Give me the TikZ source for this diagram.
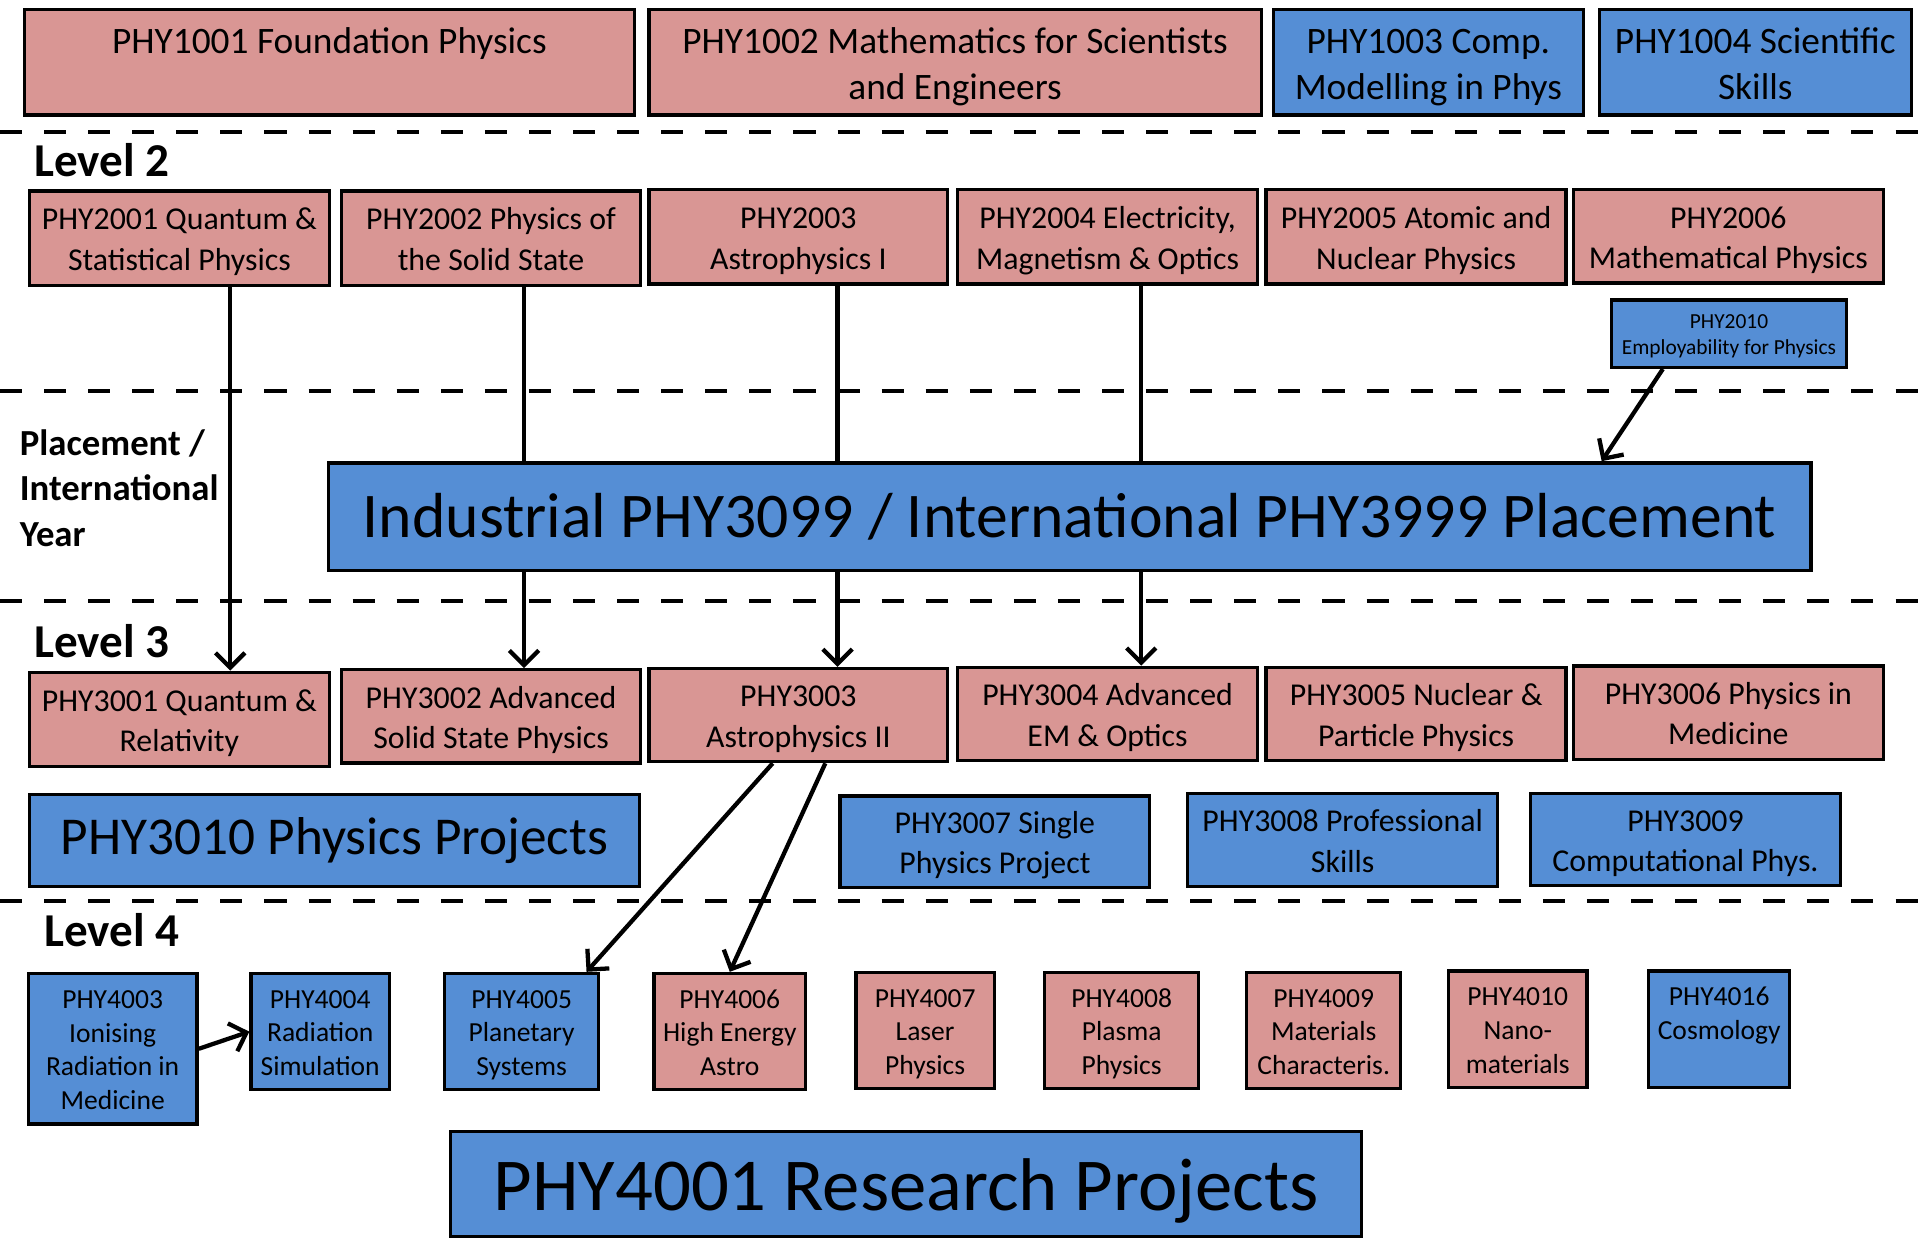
\documentclass[tikz,border=0pt]{standalone}
\usepackage{fontspec}
\setmainfont{Carlito}
\usetikzlibrary{arrows.meta,calc}
\definecolor{pinkc}{HTML}{D99694}
\definecolor{bluec}{HTML}{558ED5}
\newcommand\Htop{\rule{0pt}{1.05em}}
\newcommand\Dbot{\rule[-0.3em]{0pt}{0pt}}
\tikzset{
 box/.style={draw=black, line width=2.7pt, inner sep=0pt, align=center, text=black},
 pk/.style={box, fill=pinkc},
 bl/.style={box, fill=bluec},
 fA/.style={font=\fontsize{30.5}{37}\selectfont},
 fB/.style={font=\fontsize{26}{33}\selectfont},
 fC/.style={font=\fontsize{22.5}{27.5}\selectfont},
 fD/.style={font=\fontsize{17.5}{21.5}\selectfont},
 lvl/.style={font=\bfseries\fontsize{38.5}{42}\selectfont, anchor=base west, inner sep=0pt},
 plc/.style={font=\bfseries\fontsize{30}{37}\selectfont, anchor=base west, inner sep=0pt},
 sep/.style={dash pattern=on 18pt off 18pt, line width=3.3pt},
 ln/.style={line width=3.5pt},
 arr/.style={line width=3.5pt, -{Straight Barb[length=12pt,width=24pt]}},
}
\begin{document}
\begin{tikzpicture}[x=1pt,y=-1pt]
\useasboundingbox (0,0) rectangle (1568,1012);

% separators
\foreach \yy in {108,319,491,736}{
  \draw[sep] (0,\yy) -- (1568,\yy);
}

% Level 1
\node[pk,fA,minimum width=498,minimum height=86] (n1001) at (269,51) {\Htop PHY1001 Foundation Physics\\\mbox{}\Dbot};
\node[pk,fA,minimum width=500,minimum height=86] (n1002) at (780,51) {\Htop PHY1002 Mathematics for Scientists\\and Engineers\Dbot};
\node[bl,fA,minimum width=253,minimum height=86] (n1003) at (1166.5,51) {\Htop PHY1003 Comp.\\Modelling in Phys\Dbot};
\node[bl,fA,minimum width=255,minimum height=86] (n1004) at (1433.5,51) {\Htop PHY1004 Scientific\\Skills\Dbot};

% Level 2
\node[lvl] (lv2) at (28,144) {Level 2};
\node[pk,fB,minimum width=245,minimum height=77] (n2001) at (146.5,194.5) {\Htop PHY2001 Quantum \&\\Statistical Physics\Dbot};
\node[pk,fB,minimum width=244,minimum height=77] (n2002) at (401,194.5) {\Htop PHY2002 Physics of\\the Solid State\Dbot};
\node[pk,fB,minimum width=244,minimum height=77] (n2003) at (652,193.5) {\Htop PHY2003\\Astrophysics I\Dbot};
\node[pk,fB,minimum width=245,minimum height=77] (n2004) at (904.5,193.5) {\Htop PHY2004 Electricity,\\Magnetism \& Optics\Dbot};
\node[pk,fB,minimum width=245,minimum height=77] (n2005) at (1156.5,193.5) {\Htop PHY2005 Atomic and\\Nuclear Physics\Dbot};
\node[pk,fB,minimum width=253,minimum height=76] (n2006) at (1411.5,193) {\Htop PHY2006\\Mathematical Physics\Dbot};
\node[bl,fD,minimum width=192,minimum height=55] (n2010) at (1412,272.5) {\Htop PHY2010\\Employability for Physics\Dbot};

% Placement
\node[plc] (pl1) at (16,372) {Placement /};
\node[plc] (pl2) at (16,409) {International};
\node[plc] (pl3) at (16,446) {Year};
\node[bl,font=\fontsize{52}{60}\selectfont,minimum width=1211,minimum height=88] (place) at (873.5,422) {Industrial PHY3099 / International PHY3999 Placement};

% Level 3
\node[lvl] (lv3) at (28,537) {Level 3};
\node[pk,fB,minimum width=245,minimum height=77] (n3001) at (146.5,587.5) {\Htop PHY3001 Quantum \&\\Relativity\Dbot};
\node[pk,fB,minimum width=244,minimum height=76] (n3002) at (401,585) {\Htop PHY3002 Advanced\\Solid State Physics\Dbot};
\node[pk,fB,minimum width=244,minimum height=76] (n3003) at (652,584) {\Htop PHY3003\\Astrophysics II\Dbot};
\node[pk,fB,minimum width=245,minimum height=76] (n3004) at (904.5,583) {\Htop PHY3004 Advanced\\EM \& Optics\Dbot};
\node[pk,fB,minimum width=245,minimum height=76] (n3005) at (1156.5,583) {\Htop PHY3005 Nuclear \&\\Particle Physics\Dbot};
\node[pk,fB,minimum width=253,minimum height=76] (n3006) at (1411.5,582) {\Htop PHY3006 Physics in\\Medicine\Dbot};

\node[bl,font=\fontsize{43.5}{50}\selectfont,minimum width=498,minimum height=75] (n3010) at (273,686.5) {PHY3010 Physics Projects};
\node[bl,fB,minimum width=253,minimum height=75] (n3007) at (812.5,687.5) {\Htop PHY3007 Single\\Physics Project\Dbot};
\node[bl,fB,minimum width=253,minimum height=76] (n3008) at (1096.5,686) {\Htop PHY3008 Professional\\Skills\Dbot};
\node[bl,fB,minimum width=253,minimum height=75] (n3009) at (1376.5,685.5) {\Htop PHY3009\\Computational Phys.\Dbot};

% Level 4
\node[lvl] (lv4) at (36,773) {Level 4};
\node[bl,fC,minimum width=138,minimum height=123] (n4003) at (92,856.5) {\Htop PHY4003\\Ionising\\Radiation in\\Medicine\Dbot};
\node[bl,fC,minimum width=113,minimum height=95] (n4004) at (261.5,842.5) {\Htop PHY4004\\Radiation\\Simulation\Dbot};
\node[bl,fC,minimum width=126,minimum height=95] (n4005) at (426,842.5) {\Htop PHY4005\\Planetary\\Systems\Dbot};
\node[pk,fC,minimum width=124,minimum height=95] (n4006) at (596,842.5) {\Htop PHY4006\\High Energy\\Astro\Dbot};
\node[pk,fC,minimum width=113,minimum height=95] (n4007) at (755.5,841.5) {\Htop PHY4007\\Laser\\Physics\Dbot};
\node[pk,fC,minimum width=126,minimum height=95] (n4008) at (916,841.5) {\Htop PHY4008\\Plasma\\Physics\Dbot};
\node[pk,fC,minimum width=126,minimum height=95] (n4009) at (1081,841.5) {\Htop PHY4009\\Materials\\Characteris.\Dbot};
\node[pk,fC,minimum width=113,minimum height=95] (n4010) at (1239.5,840.5) {\Htop PHY4010\\Nano-\\materials\Dbot};
\node[bl,fC,minimum width=115,minimum height=95] (n4016) at (1404,840.5) {\Htop PHY4016\\Cosmology\\\mbox{}\Dbot};
\node[bl,font=\fontsize{61}{68}\selectfont,minimum width=744,minimum height=86] (n4001) at (740,967) {\rule{0pt}{54pt}PHY4001 Research Projects};

% column coordinates
\coordinate (c1) at (188,0);
\coordinate (c2) at (428,0);
\coordinate (c3) at (684,0);
\coordinate (c4) at (932,0);
\coordinate (c5) at (1358,0);
\coordinate (c6) at (1308,0);
\coordinate (c7) at (631,0);
\coordinate (c8) at (479,0);
\coordinate (c9) at (674,0);

% connectors
\draw[arr] (n2001.south -| c1) -- (n3001.north -| c1);
\draw[ln] (n2002.south -| c2) -- (place.north -| c2);
\draw[arr] (place.south -| c2) -- (n3002.north -| c2);
\draw[ln] (n2003.south -| c3) -- (place.north -| c3);
\draw[arr] (place.south -| c3) -- (n3003.north -| c3);
\draw[ln] (n2004.south -| c4) -- (place.north -| c4);
\draw[arr] (place.south -| c4) -- (n3004.north -| c4);
\draw[arr] (n2010.south -| c5) -- (place.north -| c6);
\draw[arr] (n3003.south -| c7) -- (n4005.north -| c8);
\draw[arr] (n3003.south -| c9) -- (n4006.north);
\draw[arr] (n4003.east) -- (n4004.west);
\end{tikzpicture}
\end{document}
